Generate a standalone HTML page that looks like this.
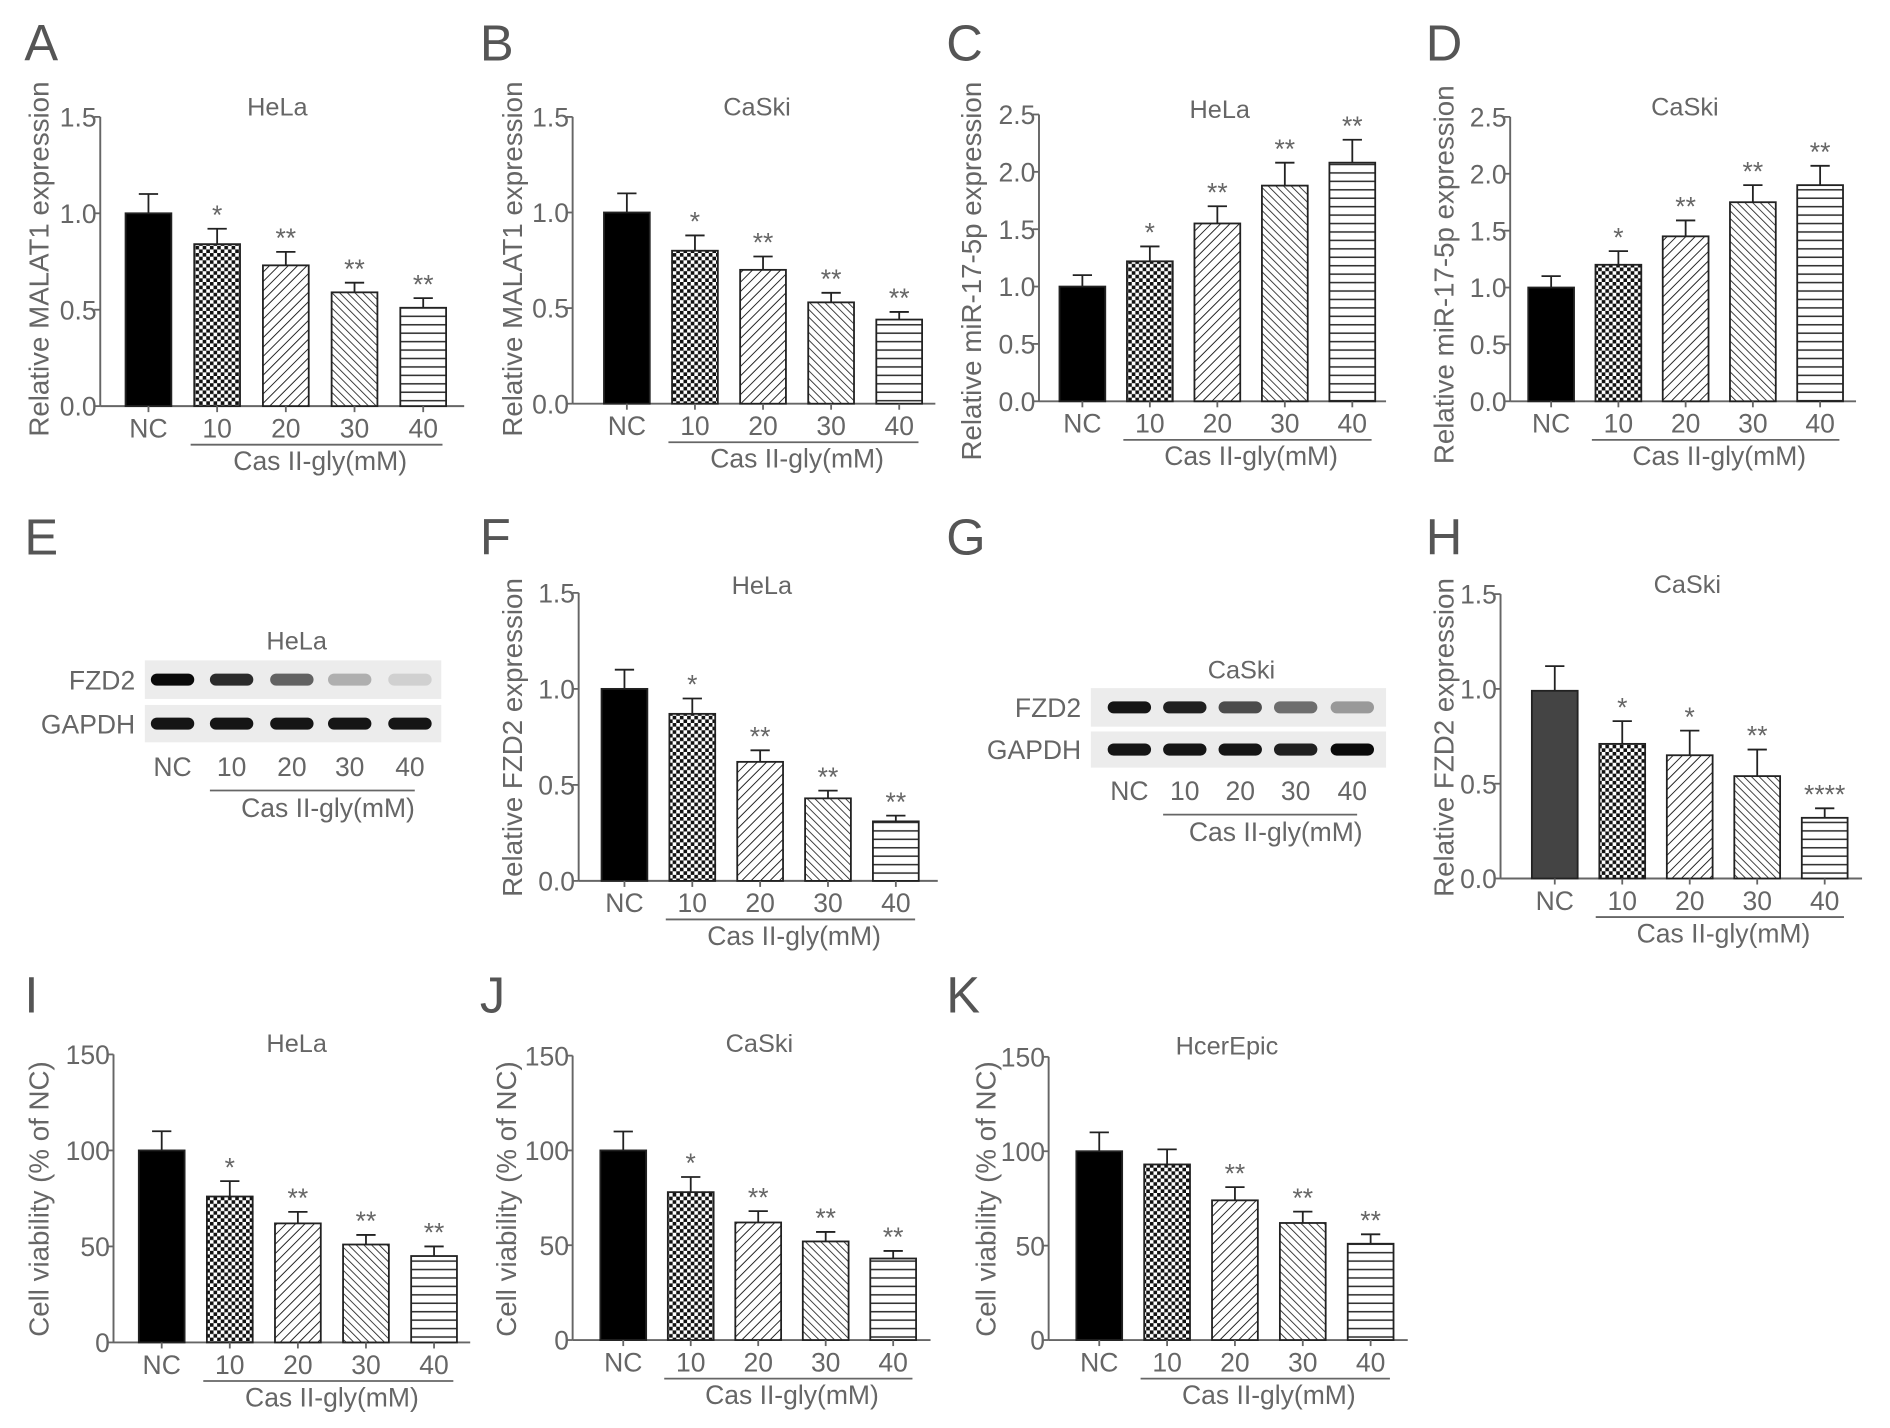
<!DOCTYPE html>
<html><head><meta charset="utf-8"><style>
html,body{margin:0;padding:0;background:#fff}
svg{display:block;font-family:"Liberation Sans",sans-serif}
</style></head><body>
<svg id="fig" width="1890" height="1428" viewBox="0 0 1568 1185" xmlns="http://www.w3.org/2000/svg">
<defs>
<pattern id="pCheck" width="6" height="6" patternUnits="userSpaceOnUse"><rect width="6" height="6" fill="#fff"/><rect width="3" height="3" fill="#111"/><rect x="3" y="3" width="3" height="3" fill="#111"/></pattern>
<pattern id="pDiag1" width="5.5" height="5.5" patternUnits="userSpaceOnUse" patternTransform="rotate(45)"><rect width="5.5" height="5.5" fill="#fff"/><line x1="0" y1="0" x2="0" y2="5.5" stroke="#222" stroke-width="1.6"/></pattern>
<pattern id="pDiag2" width="4.5" height="4.5" patternUnits="userSpaceOnUse" patternTransform="rotate(-45)"><rect width="4.5" height="4.5" fill="#fff"/><line x1="0" y1="0" x2="0" y2="4.5" stroke="#222" stroke-width="1.4"/></pattern>
<pattern id="pHoriz" width="7" height="7" patternUnits="userSpaceOnUse"><rect width="7" height="7" fill="#fff"/><line x1="0" y1="3.5" x2="7" y2="3.5" stroke="#333" stroke-width="1.3"/></pattern>
</defs>
</svg>
<script>
const categories = ["NC","10","20","30","40"];
const aValues=[1.0,0.84,0.73,0.59,0.51], aErrors=[0.1,0.08,0.07,0.05,0.05], aStars=["","*","**","**","**"];
const bValues=[1.0,0.80,0.70,0.53,0.44], bErrors=[0.1,0.08,0.07,0.05,0.04], bStars=["","*","**","**","**"];
const cValues=[1.0,1.22,1.55,1.88,2.08], cErrors=[0.1,0.13,0.15,0.2,0.2], cStars=["","*","**","**","**"];
const dValues=[1.0,1.2,1.45,1.75,1.9], dErrors=[0.1,0.12,0.14,0.15,0.17], dStars=["","*","**","**","**"];
const fValues=[1.0,0.87,0.62,0.43,0.31], fErrors=[0.1,0.08,0.06,0.04,0.03], fStars=["","*","**","**","**"];
const hValues=[0.99,0.71,0.65,0.54,0.32], hErrors=[0.13,0.12,0.13,0.14,0.05], hStars=["","*","*","**","****"];
const iValues=[100,76,62,51,45], iErrors=[10,8,6,5,5], iStars=["","*","**","**","**"];
const jValues=[100,78,62,52,43], jErrors=[10,8,6,5,4], jStars=["","*","**","**","**"];
const kValues=[100,93,74,62,51], kErrors=[10,8,7,6,5], kStars=["","","**","**","**"];
const exprTicks=[0,0.5,1.0,1.5], exprTickLabels=["0.0","0.5","1.0","1.5"];
const mirTicks=[0,0.5,1.0,1.5,2.0,2.5], mirTickLabels=["0.0","0.5","1.0","1.5","2.0","2.5"];
const viaTicks=[0,50,100,150], viaTickLabels=["0","50","100","150"];
const fzdBandE=[1.0,0.85,0.6,0.25,0.1], gapdhBandE=[0.95,0.95,0.95,0.95,0.95];
const fzdBandG=[0.95,0.9,0.7,0.55,0.35], gapdhBandG=[0.95,0.95,0.95,0.9,1.0];

const svg=document.getElementById('fig');
const NS="http://www.w3.org/2000/svg";
function el(tag,attrs,parent){const e=document.createElementNS(NS,tag);for(const k in attrs)e.setAttribute(k,attrs[k]);(parent||svg).appendChild(e);return e;}
function txt(s,attrs,parent){const e=el('text',attrs,parent);e.textContent=s;return e;}
const fills=["#000","url(#pCheck)","url(#pDiag1)","url(#pDiag2)","url(#pHoriz)"];
const G="#666";

function panel(id,o,values,errors,stars,ticks,tickLabels){
  const g=el('g',{});
  
  
  const ymax=ticks[ticks.length-1];
  const y=v=>o.y0-(v/ymax)*(o.y0-o.ytop);
  const x=i=>o.x0+i*o.step;
  const yl=txt(o.ylabel,{x:0,y:0,'font-size':23,fill:G,'text-anchor':'middle',transform:`translate(${o.ylx},${o.yly}) rotate(-90)`},g);
  
  
  const ax=el('line',{x1:o.ax,y1:o.ytop,x2:o.ax,y2:o.y0,stroke:G,'stroke-width':1.6},g);
  
  
  const xa=el('line',{x1:o.ax,y1:o.y0,x2:o.xend,y2:o.y0,stroke:G,'stroke-width':1.6},g);
  
  
  ticks.forEach((t,i)=>{
    el('line',{x1:o.ax-5,y1:y(t),x2:o.ax,y2:y(t),stroke:G,'stroke-width':1.5},g);
    const tl=txt(tickLabels[i],{x:o.ax-3,y:y(t)+8,'font-size':22,fill:G,'text-anchor':'end'},g);
    
    
  });
  values.forEach((v,i)=>{
    const cx=x(i),w=38;
    const top=y(v+errors[i]);
    el('line',{x1:cx,y1:top,x2:cx,y2:y(v),stroke:'#222','stroke-width':1.5},g);
    el('line',{x1:cx-8,y1:top,x2:cx+8,y2:top,stroke:'#222','stroke-width':1.5},g);
    const b=el('rect',{x:cx-w/2,y:y(v),width:w,height:o.y0-y(v),fill:(i===0&&o.ncFill)?o.ncFill:fills[i],stroke:'#222','stroke-width':1.5},g);
    
    
    el('line',{x1:cx,y1:o.y0,x2:cx,y2:o.y0+5,stroke:G,'stroke-width':1.5},g);
    if(stars[i]){const s=txt(stars[i],{x:cx,y:top-4,'font-size':22,fill:G,'text-anchor':'middle'},g);
      
      }
    const c=txt(categories[i],{x:cx,y:o.y0+26,'font-size':22,fill:G,'text-anchor':'middle'},g);
    
    
  });
  el('line',{x1:x(1)-22,y1:o.y0+32,x2:x(4)+16,y2:o.y0+32,stroke:G,'stroke-width':1.5},g);
  const cap=txt("Cas II-gly(mM)",{x:(x(1)+x(4))/2,y:o.y0+53,'font-size':22,fill:G,'text-anchor':'middle'},g);
  
  
  const t=txt(o.title,{x:o.tx,y:o.ty,'font-size':21,fill:G,'text-anchor':'middle'},g);
  
  
}

function blot(id,o,fzd,gapdh){
  const g=el('g',{});
  
  
  const t=txt(o.title,{x:o.tx,y:o.ty,'font-size':21,fill:G,'text-anchor':'middle'},g);
  
  
  [[o.r1,fzd,"FZD2"],[o.r2,gapdh,"GAPDH"]].forEach(([r,arr,name])=>{
    el('rect',{x:o.bx,y:r[0],width:o.bw,height:r[1]-r[0],fill:'#ececec'},g);
    const l=txt(name,{x:o.bx-8,y:(r[0]+r[1])/2+8,'font-size':22,fill:G,'text-anchor':'end'},g);
    
    
    arr.forEach((v,i)=>{
      const c=Math.round(230-220*v);
      el('rect',{x:o.lanes[i]-18,y:(r[0]+r[1])/2-5,width:36,height:10,rx:5,fill:`rgb(${c},${c},${c})`},g);
    });
  });
  categories.forEach((c,i)=>{const e=txt(c,{x:o.lanes[i],y:o.ly,'font-size':22,fill:G,'text-anchor':'middle'},g);
    
    });
  el('line',{x1:o.lanes[1]-18,y1:o.ly+12,x2:o.lanes[4]+4,y2:o.ly+12,stroke:G,'stroke-width':1.5},g);
  const cap=txt("Cas II-gly(mM)",{x:(o.lanes[1]+o.lanes[4])/2+6,y:o.ly+34,'font-size':22,fill:G,'text-anchor':'middle'},g);
  
  
}

panel('A',{ax:83,y0:337,ytop:97,x0:123,step:57,xend:385,title:"HeLa",tx:230,ty:96,ylabel:"Relative MALAT1 expression",ylx:40,yly:215},aValues,aErrors,aStars,exprTicks,exprTickLabels);
panel('B',{ax:475,y0:335,ytop:97,x0:520,step:56.5,xend:776,title:"CaSki",tx:628,ty:96,ylabel:"Relative MALAT1 expression",ylx:433,yly:215},bValues,bErrors,bStars,exprTicks,exprTickLabels);
panel('C',{ax:862,y0:333,ytop:95,x0:898,step:56,xend:1150,title:"HeLa",tx:1012,ty:98,ylabel:"Relative miR-17-5p expression",ylx:814,yly:225},cValues,cErrors,cStars,mirTicks,mirTickLabels);
panel('D',{ax:1253,y0:333,ytop:97,x0:1287,step:55.8,xend:1540,title:"CaSki",tx:1398,ty:96,ylabel:"Relative miR-17-5p expression",ylx:1206,yly:228},dValues,dErrors,dStars,mirTicks,mirTickLabels);
panel('F',{ax:480,y0:731,ytop:492,x0:518,step:56.3,xend:778,title:"HeLa",tx:632,ty:493,ylabel:"Relative FZD2 expression",ylx:433,yly:612},fValues,fErrors,fStars,exprTicks,exprTickLabels);
panel('H',{ax:1245,y0:729,ytop:493,x0:1290,step:56,xend:1545,title:"CaSki",tx:1400,ty:492,ylabel:"Relative FZD2 expression",ylx:1206,yly:612,ncFill:"#444"},hValues,hErrors,hStars,exprTicks,exprTickLabels);
panel('I',{ax:94,y0:1114,ytop:875,x0:134,step:56.5,xend:390,title:"HeLa",tx:246,ty:873,ylabel:"Cell viability (% of NC)",ylx:40,yly:995},iValues,iErrors,iStars,viaTicks,viaTickLabels);
panel('J',{ax:475,y0:1112,ytop:876,x0:517,step:56,xend:772,title:"CaSki",tx:630,ty:873,ylabel:"Cell viability (% of NC)",ylx:428,yly:995},jValues,jErrors,jStars,viaTicks,viaTickLabels);
panel('K',{ax:870,y0:1112,ytop:877,x0:912,step:56.3,xend:1168,title:"HcerEpic",tx:1018,ty:875,ylabel:"Cell viability (% of NC)",ylx:826,yly:995},kValues,kErrors,kStars,viaTicks,viaTickLabels);

blot('E',{title:"HeLa",tx:246,ty:539,bx:120,bw:246,r1:[548,580],r2:[585,616],lanes:[143,192,242,290,340],ly:644},fzdBandE,gapdhBandE);
blot('G',{title:"CaSki",tx:1030,ty:563,bx:905,bw:245,r1:[571,603],r2:[607,637],lanes:[937,983,1029,1075,1122],ly:664},fzdBandG,gapdhBandG);

[["A",20,50],["B",398,50],["C",785,50],["D",1183,50],["E",20,460],["F",398,460],["G",785,460],["H",1183,460],["I",20,840],["J",398,840],["K",785,840]].forEach(([l,xx,yy])=>{
  const e=txt(l,{x:xx,y:yy,'font-size':42,fill:'#555'});
  
  
});
</script>
</body></html>
